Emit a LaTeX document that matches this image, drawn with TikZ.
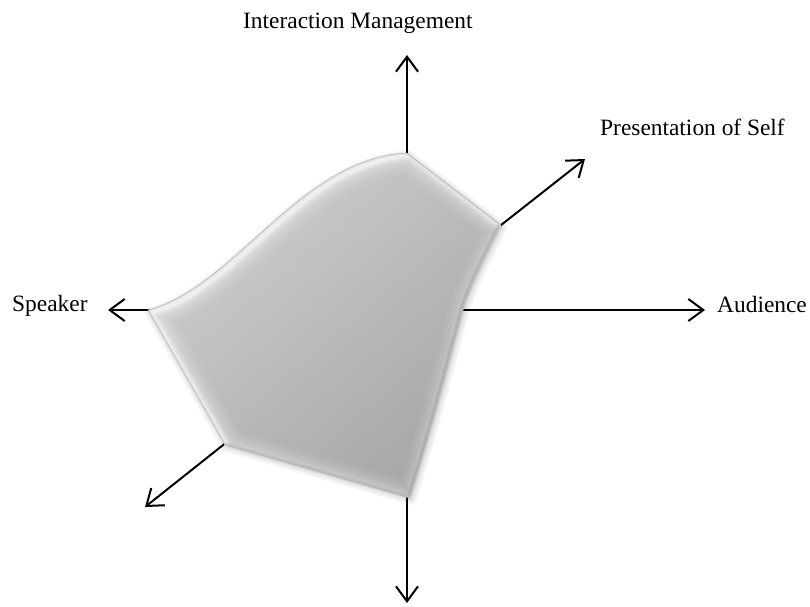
\documentclass[tikz,border=0pt]{standalone}
\usepackage{fontspec}
\setmainfont{Liberation Serif}
\usetikzlibrary{arrows.meta}
\definecolor{bodylight}{HTML}{D0D0D0}
\definecolor{bodydark}{HTML}{A6A6A6}
\begin{document}
\begin{tikzpicture}[x=1pt,y=-1pt,
  axis/.style={line width=2pt,-{Straight Barb[length=15pt,width=22pt,line width=2pt]}},
  lbl/.style={font=\fontsize{23.4}{27}\selectfont,inner sep=0pt,anchor=base west},
  line join=round]
\useasboundingbox (0,0) rectangle (810,606);

% axis centres and arrow tips
\coordinate (o)  at (407,310);
\coordinate (od) at (407,299);
\coordinate (tN) at (407,55);
\coordinate (tS) at (407,603);
\coordinate (tE) at (705,310);
\coordinate (tW) at (108,310);
\coordinate (tNE) at (585,159);
\coordinate (tSW) at (145,507);

% axes
\draw[axis] (o) -- (tN);
\draw[axis] (o) -- (tS);
\draw[axis] (o) -- (tE);
\draw[axis] (o) -- (tW);
\draw[axis] (od) -- (tNE);
\draw[axis] (od) -- (tSW);

% the profile outline
\def\blob{(148,310) .. controls (235,287) and (300,158) .. (407,153)
  -- (501,225) .. controls (489,250) and (470,286) .. (463,310)
  .. controls (450,360) and (430,435) .. (410,498)
  -- (225,445) -- cycle}

% soft drop shadow
\begin{scope}[transform canvas={xshift=1.5pt,yshift=-2pt}]
  \foreach \w in {10,7,4}
    \draw[black,line width=\w pt,opacity=0.03] \blob;
  \fill[black,opacity=0.08] \blob;
\end{scope}

% bevelled body
\begin{scope}
  \clip \blob;
  \shade[top color=bodylight,bottom color=bodydark,shading angle=40] (140,140) rectangle (510,505);
  \begin{scope}[transform canvas={xshift=3pt,yshift=-3pt}]
    \foreach \w/\o in {36/0.06,28/0.08,20/0.11,13/0.16,8/0.26,4/0.45}
      \draw[white,line width=\w pt,opacity=\o] \blob;
  \end{scope}
  \foreach \w/\o in {10/0.05,5/0.08}
    \draw[white,line width=\w pt,opacity=\o] \blob;
  \begin{scope}[transform canvas={xshift=-1.5pt,yshift=1.5pt}]
    \foreach \w/\o in {6/0.03,3/0.05,1.2/0.08}
      \draw[black,line width=\w pt,opacity=\o] \blob;
  \end{scope}
\end{scope}
\draw[black!28,line width=0.5pt] \blob;

% labels
\node[lbl] (lN) at (243,28) {Interaction Management};
\node[lbl] (lNE) at (600,135) {Presentation of Self};
\node[lbl] (lW) at (12,311) {Speaker};
\node[lbl] (lE) at (717,312) {Audience};
\end{tikzpicture}
\end{document}
